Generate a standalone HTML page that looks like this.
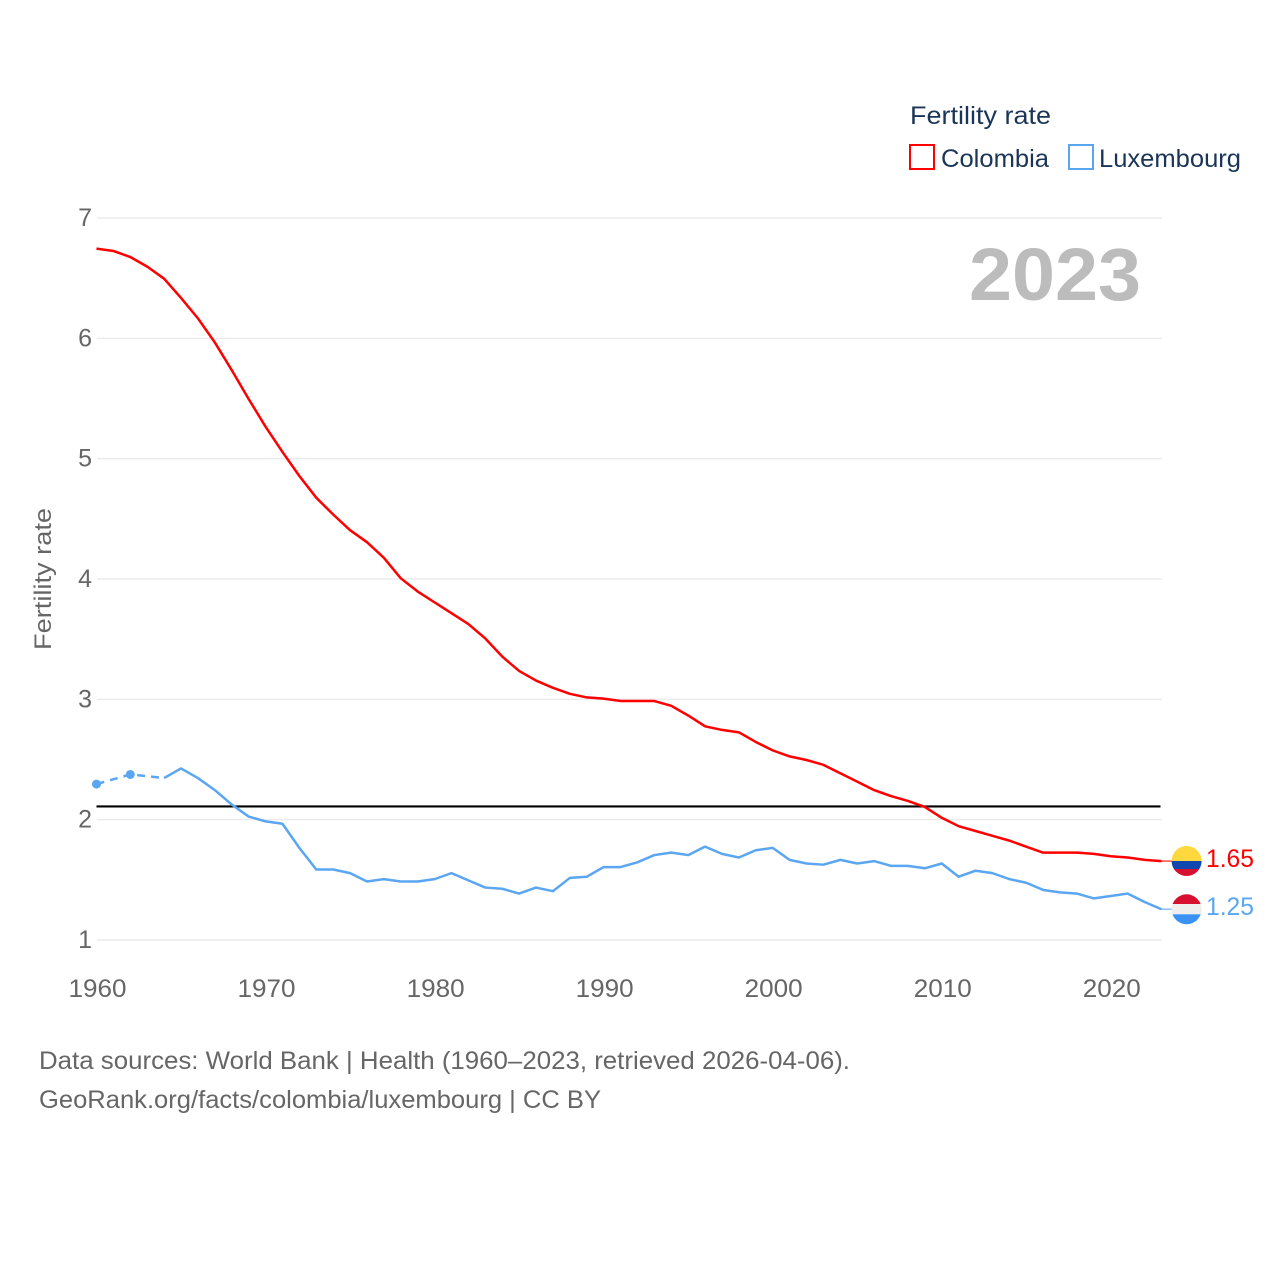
<!DOCTYPE html>
<html>
<head>
<meta charset="utf-8">
<title>Fertility rate: Colombia and Luxembourg</title>
<style>
html,body{margin:0;padding:0;background:#fff;}
svg{display:block;font-family:"Liberation Sans",sans-serif;}
</style>
</head>
<body>
<svg id="chart" xmlns="http://www.w3.org/2000/svg" width="1280" height="1280" viewBox="0 0 1280 1280">
  <rect width="1280" height="1280" fill="#fff"/>
  <g id="grid"></g>
  <g id="yticks"></g>
  <g id="xticks"></g>
  <text transform="translate(51,579) rotate(-90)" text-anchor="middle" font-size="24" fill="#666" textLength="142" lengthAdjust="spacingAndGlyphs">Fertility rate</text>
  <text x="969" y="300" font-size="74" font-weight="bold" fill="#bcbcbc" textLength="172" lengthAdjust="spacingAndGlyphs">2023</text>

  <g>
    <text x="910" y="124" font-size="25" fill="#1a3557" textLength="141" lengthAdjust="spacingAndGlyphs">Fertility rate</text>
    <rect x="910" y="145" width="24" height="24" fill="#fff" stroke="#ff0000" stroke-width="2"/>
    <text x="941" y="167" font-size="25" fill="#1a3557" textLength="108" lengthAdjust="spacingAndGlyphs">Colombia</text>
    <rect x="1069" y="145" width="24" height="24" fill="#fff" stroke="#5ba6f2" stroke-width="2"/>
    <text x="1099" y="167" font-size="25" fill="#1a3557" textLength="142" lengthAdjust="spacingAndGlyphs">Luxembourg</text>
  </g>

  <g id="series" transform="translate(-0.5,-0.7)"></g>
  <g id="ends"></g>

  <defs>
    <clipPath id="flag-clip-co"><circle cx="1186.6" cy="861" r="15"/></clipPath>
    <clipPath id="flag-clip-lu"><circle cx="1186.6" cy="909.3" r="15"/></clipPath>
  </defs>
  <g clip-path="url(#flag-clip-co)">
    <rect x="1171" y="845" width="31" height="16" fill="#ffd83d"/>
    <rect x="1171" y="861" width="31" height="8" fill="#0f47af"/>
    <rect x="1171" y="869" width="31" height="8" fill="#d8102f"/>
  </g>
  <g clip-path="url(#flag-clip-lu)">
    <rect x="1171" y="894" width="31" height="10" fill="#d8102f"/>
    <rect x="1171" y="904" width="31" height="10.3" fill="#eeeeee"/>
    <rect x="1171" y="914.3" width="31" height="11" fill="#3b92f5"/>
  </g>

  <g>
    <text x="39" y="1069" font-size="25" fill="#666" textLength="811" lengthAdjust="spacingAndGlyphs">Data sources: World Bank | Health (1960–2023, retrieved 2026-04-06).</text>
    <text x="39" y="1108" font-size="25" fill="#666" textLength="562" lengthAdjust="spacingAndGlyphs">GeoRank.org/facts/colombia/luxembourg | CC BY</text>
  </g>
</svg>
<script>
const startYear = 1960;
const endYear = 2023;
const yTicks = [1, 2, 3, 4, 5, 6, 7];
const xTicks = [1960, 1970, 1980, 1990, 2000, 2010, 2020];
const referenceValue = 2.11;
const colombiaValues = [6.74,6.72,6.67,6.59,6.49,6.33,6.16,5.96,5.73,5.49,5.26,5.05,4.85,4.67,4.53,4.40,4.30,4.17,4.00,3.89,3.80,3.71,3.62,3.50,3.35,3.23,3.15,3.09,3.04,3.01,3.00,2.98,2.98,2.98,2.94,2.86,2.77,2.74,2.72,2.64,2.57,2.52,2.49,2.45,2.38,2.31,2.24,2.19,2.15,2.10,2.01,1.94,1.90,1.86,1.82,1.77,1.72,1.72,1.72,1.71,1.69,1.68,1.66,1.65];
const luxembourgValues = [2.29,null,2.37,null,2.34,2.42,2.34,2.24,2.12,2.02,1.98,1.96,1.76,1.58,1.58,1.55,1.48,1.50,1.48,1.48,1.50,1.55,1.49,1.43,1.42,1.38,1.43,1.40,1.51,1.52,1.60,1.60,1.64,1.70,1.72,1.70,1.77,1.71,1.68,1.74,1.76,1.66,1.63,1.62,1.66,1.63,1.65,1.61,1.61,1.59,1.63,1.52,1.57,1.55,1.50,1.47,1.41,1.39,1.38,1.34,1.36,1.38,1.31,1.25];

const NS = 'http://www.w3.org/2000/svg';
const plotLeft = 97, plotRight = 1162, plotTop = 218, plotBottom = 940;
const xScale = function (year) {
  return plotLeft + (year - startYear) * (plotRight - plotLeft) / (endYear - startYear);
};
const yScale = function (value) {
  return plotBottom - (value - 1) * (plotBottom - plotTop) / 6;
};
function make(tag, attrs, parent) {
  const el = document.createElementNS(NS, tag);
  for (const k in attrs) el.setAttribute(k, attrs[k]);
  parent.appendChild(el);
  return el;
}

const grid = document.getElementById('grid');
const yG = document.getElementById('yticks');
const xG = document.getElementById('xticks');
const seriesG = document.getElementById('series');
const endsG = document.getElementById('ends');

yTicks.forEach(function (t) {
  const line = make('line', {x1: 97, x2: plotRight, y1: yScale(t), y2: yScale(t), stroke: '#ebebeb', 'stroke-width': 1.5}, grid);
  
  
  const label = make('text', {x: 92, y: yScale(t) + 8, 'text-anchor': 'end', 'font-size': 25, fill: '#666'}, yG);
  label.textContent = t;
  
  
});
xTicks.forEach(function (t) {
  const label = make('text', {x: xScale(t) + 0.5, y: 997, 'text-anchor': 'middle', 'font-size': 25, fill: '#666', textLength: 58, lengthAdjust: 'spacingAndGlyphs'}, xG);
  label.textContent = t;
  
  
});

function segments(values) {
  const runs = [];
  let run = [];
  values.forEach(function (v, i) {
    if (v === null) {
      if (run.length) runs.push(run);
      run = [];
    } else {
      run.push([xScale(startYear + i), yScale(v)]);
    }
  });
  if (run.length) runs.push(run);
  return runs;
}
function pts(run) {
  return run.map(function (p) { return p[0].toFixed(2) + ',' + p[1].toFixed(2); }).join(' ');
}

const refLine = make('line', {x1: 97, x2: plotRight - 1, y1: yScale(referenceValue) + 0.7, y2: yScale(referenceValue) + 0.7, stroke: '#000', 'stroke-width': 2.2}, seriesG);



function drawSeries(values, color, name) {
  const runs = segments(values);
  const present = [];
  values.forEach(function (v, i) {
    if (v !== null) present.push([xScale(startYear + i), yScale(v)]);
  });
  let hasGap = values.indexOf(null) >= 0;
  if (hasGap) {
    const firstFull = runs[runs.length - 1][0];
    const gapPts = present.filter(function (p) { return p[0] <= firstFull[0]; });
    const dash = make('polyline', {points: pts(gapPts), fill: 'none', stroke: color, 'stroke-width': 2.5, 'stroke-dasharray': '8 6'}, seriesG);
    
    
  }
  runs.forEach(function (run, idx) {
    if (run.length === 1 && idx < runs.length - 1) {
      const dot = make('circle', {cx: run[0][0], cy: run[0][1], r: 4.5, fill: color}, seriesG);
      
      
    } else {
      const line = make('polyline', {points: pts(run), fill: 'none', stroke: color, 'stroke-width': 2.5, 'stroke-linejoin': 'round'}, seriesG);
      
      
    }
  });
}
drawSeries(colombiaValues, '#ff0000', 'colombia');
drawSeries(luxembourgValues, '#5ba6f2', 'luxembourg');

function drawEnd(values, color, name, labelY) {
  const v = values[values.length - 1];
  const y = yScale(v) - 0.7;
  const lead = make('line', {x1: plotRight - 0.5, x2: 1172, y1: y, y2: y, stroke: color, 'stroke-width': 1.5, 'stroke-opacity': 0.7}, endsG);
  
  
  const label = make('text', {x: 1206, y: labelY, 'font-size': 25, fill: color, textLength: 48, lengthAdjust: 'spacingAndGlyphs'}, endsG);
  label.textContent = v.toFixed(2);
  
  
}
drawEnd(colombiaValues, '#ff0000', 'colombia', 867);
drawEnd(luxembourgValues, '#5ba6f2', 'luxembourg', 915);
</script>
</body>
</html>
